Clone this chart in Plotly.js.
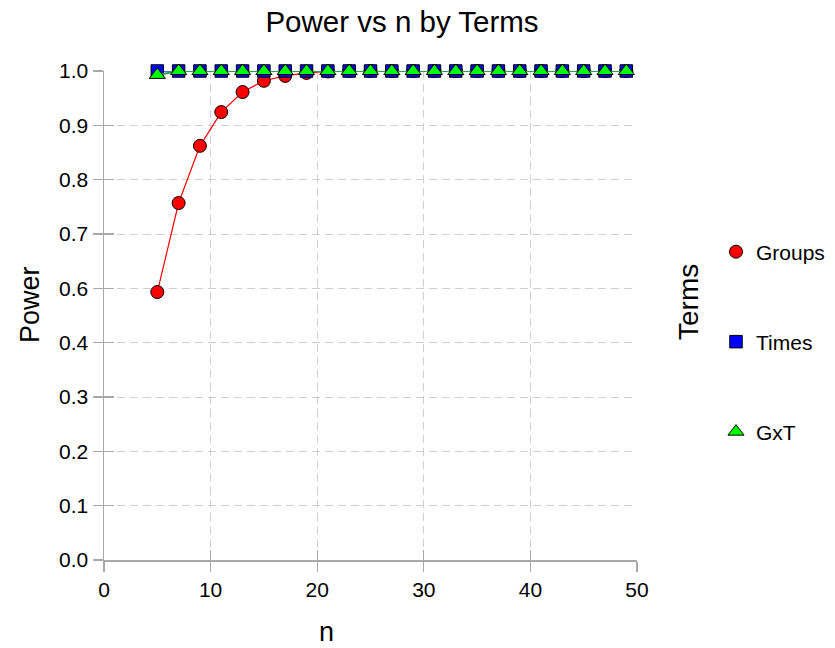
<!DOCTYPE html>
<html>
<head>
<meta charset="utf-8">
<script src="https://cdn.plot.ly/plotly-3.0.1.min.js"></script>
<style>html,body{margin:0;padding:0;background:#fff;}#chart{width:835px;height:648px;}</style>
</head>
<body>
<div id="chart"></div>
<script>
// ---- data ----
const nValues = [5,7,9,11,13,15,17,19,21,23,25,27,29,31,33,35,37,39,41,43,45,47,49];
const groupsPower = [0.548,0.730,0.847,0.916,0.957,0.980,0.990,0.996,0.999,1,1,1,1,1,1,1,1,1,1,1,1,1,1];
const timesPower  = [1,1,1,1,1,1,1,1,1,1,1,1,1,1,1,1,1,1,1,1,1,1,1];
const gxtPower    = [0.992,1,1,1,1,1,1,1,1,1,1,1,1,1,1,1,1,1,1,1,1,1,1];
const seriesNames = ['Groups','Times','GxT'];
const xTickVals = [0,10,20,30,40,50];
const yTickVals = [0,1/9,2/9,3/9,4/9,5/9,6/9,7/9,8/9,1];
const yTickText = ['0.0','0.1','0.2','0.3','0.4','0.6','0.7','0.8','0.9','1.0'];

// ---- layout helpers ----
const W = 835, H = 648;
const L = 104, R = 637, T = 71, B = 560;
const px = v => (v - L) / (R - L);
const py = v => (B - v) / (B - T);
const FONT = 'Liberation Sans, Arial, Helvetica, sans-serif';
const gridC = '#cfcfcf', axisC = '#a8a8a8';

const traces = [
  {x:nValues, y:groupsPower, mode:'lines', line:{color:'#ff0000', width:1.2}, showlegend:false, hoverinfo:'skip', cliponaxis:false},
  {x:nValues, y:groupsPower, mode:'markers', name:seriesNames[0], legend:'legend', cliponaxis:false,
   marker:{symbol:'circle', size:13, color:'#ff0000', line:{color:'#000', width:1}}},
  {x:nValues, y:timesPower, mode:'lines', line:{color:'#6464ff', width:2}, showlegend:false, hoverinfo:'skip', cliponaxis:false},
  {x:nValues, y:timesPower, mode:'markers', name:seriesNames[1], legend:'legend2', cliponaxis:false,
   marker:{symbol:'square', size:12.5, color:'#0000ff', line:{color:'#000', width:1}}},
  {x:nValues, y:gxtPower, mode:'lines', line:{color:'#2e9b57', width:2}, showlegend:false, hoverinfo:'skip', cliponaxis:false},
  {x:nValues, y:gxtPower, mode:'markers', name:seriesNames[2], legend:'legend3', cliponaxis:false,
   marker:{symbol:'triangle-up', size:14, color:'#00ff00', line:{color:'#000', width:1}}},
  {x:[], y:[], xaxis:'x2', yaxis:'y2', showlegend:false, hoverinfo:'skip'}
];

const legendBase = (yc) => ({
  xref:'container', yref:'container', x:716/W, y:1 - yc/H, xanchor:'left', yanchor:'middle',
  font:{family:FONT, size:21, color:'#000'}, bgcolor:'rgba(0,0,0,0)', borderwidth:0,
  itemsizing:'trace'
});

const layout = {
  width:W, height:H,
  paper_bgcolor:'#fff', plot_bgcolor:'#fff',
  margin:{l:L, r:W-R, t:T, b:H-B, pad:0},
  font:{family:FONT, color:'#000'},
  title:{text:'Power vs n by Terms', font:{family:FONT, size:29.5, color:'#000'},
         xref:'container', yref:'container', x:402/W, y:1-22/H, xanchor:'center', yanchor:'middle'},
  xaxis:{range:[0,50], tickvals:xTickVals, ticktext:xTickVals.map(String),
         showgrid:true, gridcolor:gridC, griddash:'8px,5px', gridwidth:1,
         zeroline:false, showline:true, linecolor:axisC, linewidth:1.5,
         ticks:'outside', ticklen:10, tickcolor:axisC, tickwidth:1.2,
         tickfont:{family:FONT, size:21, color:'#000'}, fixedrange:true},
  yaxis:{range:[0,1], tickvals:yTickVals, ticktext:yTickText,
         showgrid:true, gridcolor:gridC, griddash:'8px,5px', gridwidth:1,
         zeroline:false, showline:true, linecolor:axisC, linewidth:1.5,
         ticks:'outside', ticklen:10, tickcolor:axisC, tickwidth:1.2,
         tickfont:{family:FONT, size:21, color:'#000'}, fixedrange:true},
  xaxis2:{overlaying:'x', anchor:'y2', side:'bottom', range:[0,50], tickvals:xTickVals,
          showticklabels:false, showgrid:false, zeroline:false, showline:false,
          ticks:'inside', ticklen:10, tickcolor:axisC, tickwidth:1.2},
  yaxis2:{overlaying:'y', anchor:'x2', side:'left', range:[0,1], tickvals:yTickVals,
          showticklabels:false, showgrid:false, zeroline:false, showline:false,
          ticks:'inside', ticklen:10, tickcolor:axisC, tickwidth:1.2},
  legend:legendBase(252),
  legend2:legendBase(342),
  legend3:legendBase(432),
  annotations:[
    {text:'Power', xref:'paper', yref:'paper', x:px(30), y:py(305), textangle:-90,
     showarrow:false, font:{family:FONT, size:27, color:'#000'}, xanchor:'center', yanchor:'middle'},
    {text:'n', xref:'paper', yref:'paper', x:px(326), y:py(632),
     showarrow:false, font:{family:FONT, size:27, color:'#000'}, xanchor:'center', yanchor:'middle'},
    {text:'Terms', xref:'paper', yref:'paper', x:px(688), y:py(302), textangle:-90,
     showarrow:false, font:{family:FONT, size:28, color:'#000'}, xanchor:'center', yanchor:'middle'}
  ],
  showlegend:true
};

Plotly.newPlot('chart', traces, layout, {displayModeBar:false, staticPlot:true});
</script>
</body>
</html>
